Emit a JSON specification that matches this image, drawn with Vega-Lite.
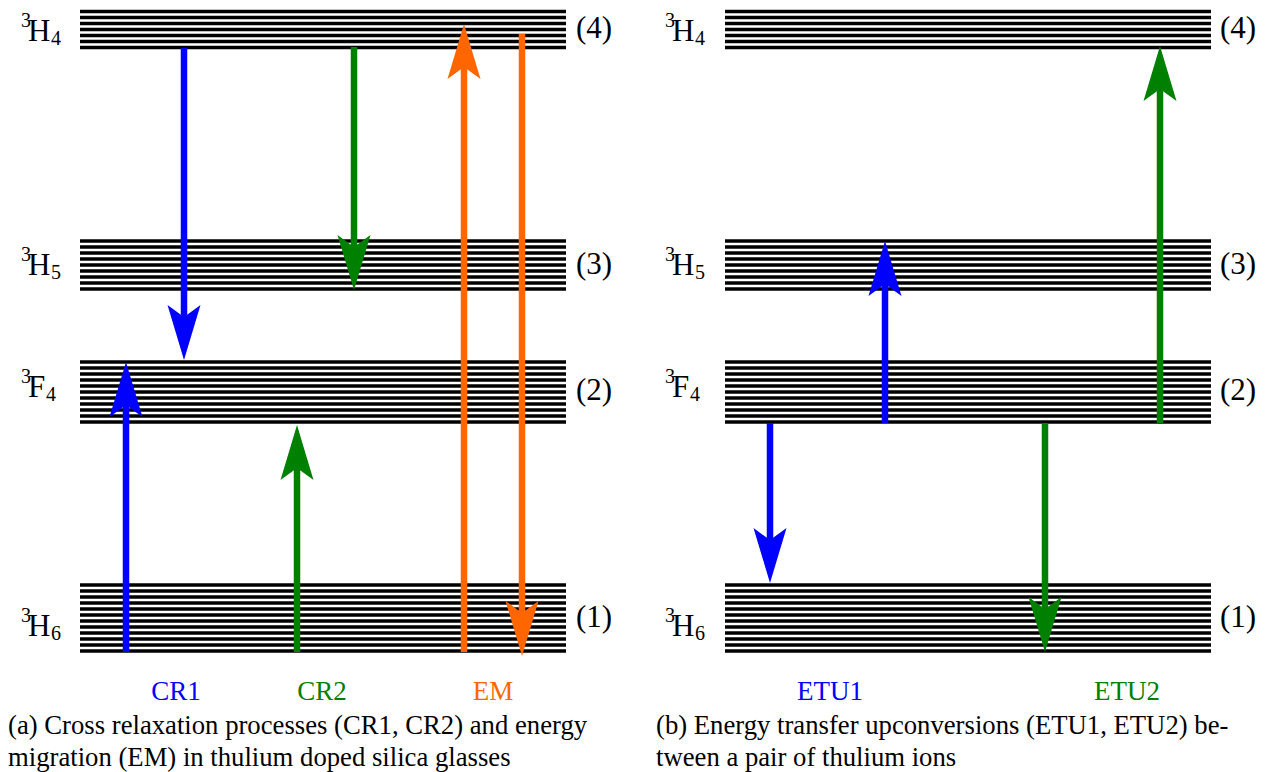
{
  "$schema": "https://vega.github.io/schema/vega-lite/v6.json",
  "width": 1265,
  "height": 772,
  "padding": 0,
  "autosize": {"type": "fit", "contains": "padding"},
  "background": "white",
  "config": {"view": {"stroke": null}, "text": {"font": "Liberation Serif"}},
  "datasets": {
    "lines": [
      {"a":80,"b":566,"y":11.5},{"a":80,"b":566,"y":17.5},{"a":80,"b":566,"y":23.5},{"a":80,"b":566,"y":29.5},{"a":80,"b":566,"y":35.5},{"a":80,"b":566,"y":41.5},{"a":80,"b":566,"y":47.5},
      {"a":80,"b":566,"y":241},{"a":80,"b":566,"y":247},{"a":80,"b":566,"y":253},{"a":80,"b":566,"y":259},{"a":80,"b":566,"y":265},{"a":80,"b":566,"y":271},{"a":80,"b":566,"y":277},{"a":80,"b":566,"y":283},{"a":80,"b":566,"y":289},
      {"a":80,"b":566,"y":362},{"a":80,"b":566,"y":368},{"a":80,"b":566,"y":374},{"a":80,"b":566,"y":380},{"a":80,"b":566,"y":386},{"a":80,"b":566,"y":392},{"a":80,"b":566,"y":398},{"a":80,"b":566,"y":404},{"a":80,"b":566,"y":410},{"a":80,"b":566,"y":416},{"a":80,"b":566,"y":422},
      {"a":80,"b":566,"y":585},{"a":80,"b":566,"y":591},{"a":80,"b":566,"y":597},{"a":80,"b":566,"y":603},{"a":80,"b":566,"y":609},{"a":80,"b":566,"y":615},{"a":80,"b":566,"y":621},{"a":80,"b":566,"y":627},{"a":80,"b":566,"y":633},{"a":80,"b":566,"y":639},{"a":80,"b":566,"y":645},{"a":80,"b":566,"y":651},
      {"a":725,"b":1211,"y":11.5},{"a":725,"b":1211,"y":17.5},{"a":725,"b":1211,"y":23.5},{"a":725,"b":1211,"y":29.5},{"a":725,"b":1211,"y":35.5},{"a":725,"b":1211,"y":41.5},{"a":725,"b":1211,"y":47.5},
      {"a":725,"b":1211,"y":241},{"a":725,"b":1211,"y":247},{"a":725,"b":1211,"y":253},{"a":725,"b":1211,"y":259},{"a":725,"b":1211,"y":265},{"a":725,"b":1211,"y":271},{"a":725,"b":1211,"y":277},{"a":725,"b":1211,"y":283},{"a":725,"b":1211,"y":289},
      {"a":725,"b":1211,"y":362},{"a":725,"b":1211,"y":368},{"a":725,"b":1211,"y":374},{"a":725,"b":1211,"y":380},{"a":725,"b":1211,"y":386},{"a":725,"b":1211,"y":392},{"a":725,"b":1211,"y":398},{"a":725,"b":1211,"y":404},{"a":725,"b":1211,"y":410},{"a":725,"b":1211,"y":416},{"a":725,"b":1211,"y":422},
      {"a":725,"b":1211,"y":585},{"a":725,"b":1211,"y":591},{"a":725,"b":1211,"y":597},{"a":725,"b":1211,"y":603},{"a":725,"b":1211,"y":609},{"a":725,"b":1211,"y":615},{"a":725,"b":1211,"y":621},{"a":725,"b":1211,"y":627},{"a":725,"b":1211,"y":633},{"a":725,"b":1211,"y":639},{"a":725,"b":1211,"y":645},{"a":725,"b":1211,"y":651}
    ],
    "arrows": [
      {"p":"CR1","x":184,"y":48,"ys":330,"tip":360,"d":"down"},
      {"p":"CR1","x":126,"y":652,"ys":392,"tip":362,"d":"up"},
      {"p":"CR2","x":354,"y":47,"ys":260,"tip":290,"d":"down"},
      {"p":"CR2","x":297,"y":652,"ys":455,"tip":425,"d":"up"},
      {"p":"EM","x":464,"y":652,"ys":54,"tip":24,"d":"up"},
      {"p":"EM","x":522,"y":34,"ys":626,"tip":656,"d":"down"},
      {"p":"ETU1","x":770,"y":423,"ys":553,"tip":583,"d":"down"},
      {"p":"ETU1","x":885,"y":423,"ys":271,"tip":241,"d":"up"},
      {"p":"ETU2","x":1045,"y":423,"ys":622,"tip":652,"d":"down"},
      {"p":"ETU2","x":1160,"y":423,"ys":76,"tip":46,"d":"up"}
    ],
    "big": [
      {"t":"H","x":28,"y":41},{"t":"H","x":28,"y":275},{"t":"F","x":28,"y":397},{"t":"H","x":28,"y":636},
      {"t":"H","x":672,"y":41},{"t":"H","x":672,"y":275},{"t":"F","x":672,"y":397},{"t":"H","x":672,"y":636},
      {"t":"(4)","x":576,"y":38},{"t":"(3)","x":576,"y":274},{"t":"(2)","x":576,"y":400},{"t":"(1)","x":576,"y":627},
      {"t":"(4)","x":1220,"y":38},{"t":"(3)","x":1220,"y":274},{"t":"(2)","x":1220,"y":400},{"t":"(1)","x":1220,"y":627}
    ],
    "small": [
      {"t":"3","x":21,"y":27},{"t":"4","x":51,"y":45},{"t":"3","x":21,"y":261},{"t":"5","x":51,"y":279},
      {"t":"3","x":21,"y":383},{"t":"4","x":46,"y":401},{"t":"3","x":21,"y":622},{"t":"6","x":51,"y":640},
      {"t":"3","x":665,"y":27},{"t":"4","x":695,"y":45},{"t":"3","x":665,"y":261},{"t":"5","x":695,"y":279},
      {"t":"3","x":665,"y":383},{"t":"4","x":690,"y":401},{"t":"3","x":665,"y":622},{"t":"6","x":695,"y":640}
    ],
    "procs": [
      {"p":"CR1","x":176,"y":700},{"p":"CR2","x":322,"y":700},{"p":"EM","x":493,"y":700},
      {"p":"ETU1","x":830,"y":700},{"p":"ETU2","x":1127,"y":700}
    ],
    "captions": [
      {"t":"(a) Cross relaxation processes (CR1, CR2) and energy","x":8,"y":734},
      {"t":"migration (EM) in thulium doped silica glasses","x":8,"y":766},
      {"t":"(b) Energy transfer upconversions (ETU1, ETU2) be-","x":656,"y":734},
      {"t":"tween a pair of thulium ions","x":656,"y":766}
    ]
  },
  "layer": [
    {
      "data": {"name": "lines"},
      "mark": {"type": "rule", "color": "black", "strokeWidth": 3.6},
      "encoding": {
        "x": {"field": "a", "type": "quantitative", "scale": {"domain": [0, 1265], "nice": false, "zero": false}, "axis": null},
        "x2": {"field": "b"},
        "y": {"field": "y", "type": "quantitative", "scale": {"domain": [0, 772], "nice": false, "zero": false, "reverse": true}, "axis": null}
      }
    },
    {
      "data": {"name": "arrows"},
      "mark": {"type": "rule", "strokeWidth": 6.5},
      "encoding": {
        "x": {"field": "x", "type": "quantitative"},
        "y": {"field": "y", "type": "quantitative"},
        "y2": {"field": "ys"},
        "color": {"field": "p", "type": "nominal", "scale": {"domain": ["CR1","CR2","EM","ETU1","ETU2"], "range": ["#0000ff","#008000","#ff6600","#0000ff","#008000"]}, "legend": null}
      }
    },
    {
      "data": {"name": "arrows"},
      "mark": {"type": "point", "filled": true, "opacity": 1, "size": 3025, "strokeWidth": 0},
      "encoding": {
        "x": {"field": "x", "type": "quantitative"},
        "y": {"field": "tip", "type": "quantitative"},
        "color": {"field": "p", "type": "nominal", "legend": null},
        "shape": {"field": "d", "type": "nominal", "scale": {"domain": ["up","down"], "range": ["M0,0L0.6,2L0,1.56L-0.6,2Z", "M0,0L0.6,-2L0,-1.56L-0.6,-2Z"]}, "legend": null}
      }
    },
    {
      "data": {"name": "big"},
      "mark": {"type": "text", "fontSize": 31, "align": "left", "baseline": "alphabetic", "color": "black"},
      "encoding": {
        "x": {"field": "x", "type": "quantitative"},
        "y": {"field": "y", "type": "quantitative"},
        "text": {"field": "t"}
      }
    },
    {
      "data": {"name": "small"},
      "mark": {"type": "text", "fontSize": 20, "align": "left", "baseline": "alphabetic", "color": "black"},
      "encoding": {
        "x": {"field": "x", "type": "quantitative"},
        "y": {"field": "y", "type": "quantitative"},
        "text": {"field": "t"}
      }
    },
    {
      "data": {"name": "procs"},
      "mark": {"type": "text", "fontSize": 27, "align": "center", "baseline": "alphabetic"},
      "encoding": {
        "x": {"field": "x", "type": "quantitative"},
        "y": {"field": "y", "type": "quantitative"},
        "text": {"field": "p"},
        "color": {"field": "p", "type": "nominal", "legend": null}
      }
    },
    {
      "data": {"name": "captions"},
      "mark": {"type": "text", "fontSize": 26.7, "align": "left", "baseline": "alphabetic", "color": "black"},
      "encoding": {
        "x": {"field": "x", "type": "quantitative"},
        "y": {"field": "y", "type": "quantitative"},
        "text": {"field": "t"}
      }
    }
  ]
}
